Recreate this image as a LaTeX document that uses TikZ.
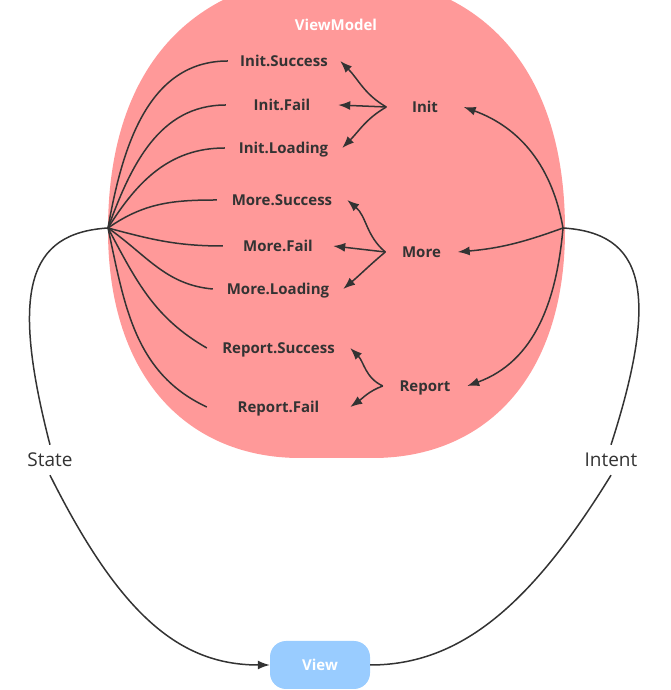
\documentclass[tikz,border=0pt]{standalone}
\usepackage{fontspec}
\setmainfont{Open Sans}
\usetikzlibrary{arrows.meta}
\definecolor{vmpink}{HTML}{FF9999}
\definecolor{viewblue}{HTML}{99CCFF}
\definecolor{ink}{HTML}{333333}
\begin{document}
\begin{tikzpicture}[x=1pt,y=1pt,
  lbl/.style={font=\fontsize{15}{18}\selectfont\bfseries, text=ink, inner xsep=0pt, inner ysep=0pt, text height=11pt, text depth=0pt},
  conn/.style={draw, color=ink, line width=1.5pt},
  arr/.style={conn, -{Latex[length=12pt,width=9pt]}},
  flowlbl/.style={font=\fontsize{19}{22}\selectfont, text=ink, inner xsep=2pt, inner ysep=8pt, text height=14pt, text depth=0pt},
  whitelbl/.style={font=\fontsize{15}{18}\selectfont\bfseries, text=white, inner sep=0pt, text height=11pt, text depth=0pt}]
\useasboundingbox (0,0) rectangle (670,690);
\clip (0,0) rectangle (670,690);
% ViewModel blob
\fill[vmpink] (108,460) .. controls (108,630) and (200,715) .. (337,715)
  .. controls (474,715) and (565,630) .. (565,460)
  .. controls (565,310) and (483,232) .. (373,232) -- (300,232)
  .. controls (190,232) and (108,310) .. (108,460) -- cycle;
\node[whitelbl] (vm) at (336,665) {ViewModel};
% hubs
\coordinate (lhub) at (108,462);
\coordinate (rhub) at (563,462);
% state nodes
\node[lbl, minimum width=112pt] (is) at (284,629) {Init.Success};
\node[lbl, minimum width=112pt] (if) at (282,585) {Init.Fail};
\node[lbl, minimum width=117pt] (il) at (283.5,542) {Init.Loading};
\node[lbl, minimum width=77pt] (init) at (425,583) {Init};
\node[lbl, minimum width=130pt] (ms) at (282,490) {More.Success};
\node[lbl, minimum width=110pt] (mf) at (278,444) {More.Fail};
\node[lbl, minimum width=130pt] (ml) at (278,401) {More.Loading};
\node[lbl, minimum width=72pt] (more) at (421.5,438) {More};
\node[lbl, minimum width=143pt] (rs) at (278.5,342) {Report.Success};
\node[lbl, minimum width=143pt] (rf) at (278.5,283) {Report.Fail};
\node[lbl, minimum width=84pt] (report) at (425,304) {Report};
% flow labels
\node[flowlbl] (state) at (50,230) {State};
\node[flowlbl] (intent) at (611,230) {Intent};
% view
\node[fill=viewblue, rounded corners=16pt, minimum width=100pt, minimum height=48pt, whitelbl] (view) at (320,25) {View};
% left hub to states
\draw[conn] (lhub) to[out=80,in=180] (is.west);
\draw[conn] (lhub) to[out=70,in=180] (if.west);
\draw[conn] (lhub) to[out=58,in=180] (il.west);
\draw[conn] (lhub) to[out=35,in=180] (ms.west);
\draw[conn] (lhub) to[out=-15,in=180] (mf.west);
\draw[conn] (lhub) to[out=-35,in=175] (ml.west);
\draw[conn] (lhub) to[out=-62,in=150] (rs.west);
\draw[conn] (lhub) to[out=-78,in=155] (rf.west);
% right hub to intents
\draw[arr] (rhub) to[out=100,in=-20] (init.east);
\draw[arr] (rhub) to[out=200,in=5] (more.east);
\draw[arr] (rhub) to[out=-95,in=20] (report.east);
% forks
\draw[arr] (init.west) to[out=150,in=-45] (is.east);
\draw[arr] (init.west) -- (if.east);
\draw[arr] (init.west) to[out=210,in=45] (il.east);
\draw[arr] (more.west) to[out=140,in=-40] (ms.east);
\draw[arr] (more.west) -- (mf.east);
\draw[arr] (more.west) to[out=220,in=40] (ml.east);
\draw[arr] (report.west) to[out=155,in=-45] (rs.east);
\draw[arr] (report.west) to[out=200,in=35] (rf.east);
% outer loop
\draw[conn] (lhub) .. controls +(-80,-5) and +(-40,155) .. (state.north);
\draw[arr] (state.south) .. controls +(70,-140) and +(-90,0) .. (view.west);
\draw[conn] (rhub) .. controls +(80,-5) and +(50,155) .. (intent.north);
\draw[conn] (intent.south) .. controls +(-80,-130) and +(90,0) .. (view.east);
\end{tikzpicture}
\end{document}
